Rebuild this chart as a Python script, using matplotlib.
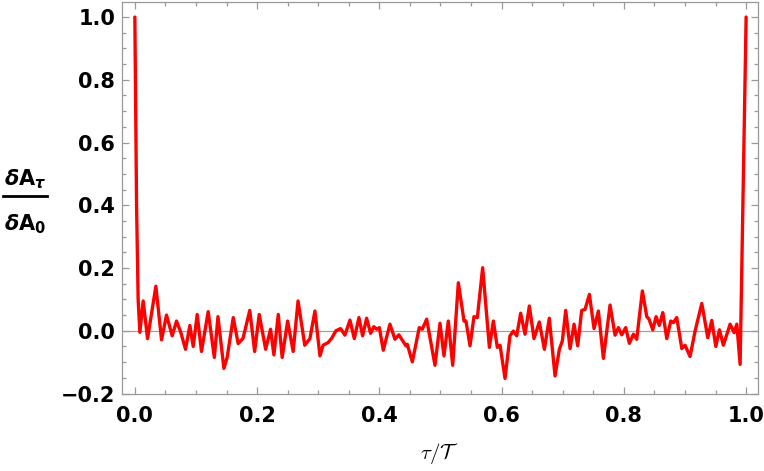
import matplotlib
matplotlib.use("Agg")
import matplotlib.pyplot as plt
from matplotlib import rcParams
from matplotlib.lines import Line2D
from matplotlib.ticker import MultipleLocator, FuncFormatter

rcParams['font.family'] = 'DejaVu Sans'
rcParams['font.weight'] = 'bold'
rcParams['mathtext.fontset'] = 'custom'
rcParams['mathtext.rm'] = 'DejaVu Sans:bold'
rcParams['mathtext.bf'] = 'DejaVu Sans:bold'
rcParams['mathtext.it'] = 'DejaVu Sans:italic:bold'

# tau / T  and  dA_tau / dA_0 (extrema and turning points)
tau = [0.0, 0.0028, 0.0054, 0.0082, 0.0136, 0.0208, 0.0344, 0.0437, 0.0518, 0.0611,
       0.0682, 0.0753, 0.0829, 0.0900, 0.0955, 0.1020, 0.1090, 0.1200, 0.1300, 0.1360,
       0.1457, 0.1510, 0.1610, 0.1690, 0.1770, 0.1880, 0.1960, 0.2035, 0.2140, 0.2220,
       0.2275, 0.2346, 0.2410, 0.2500, 0.2590, 0.2670, 0.2780, 0.2864, 0.2946, 0.3028,
       0.3080, 0.3160, 0.3220, 0.3290, 0.3366, 0.3437, 0.3519, 0.3590, 0.3666, 0.3726,
       0.3792, 0.3857, 0.3910, 0.3955, 0.4000, 0.4064, 0.4173, 0.4255, 0.4320, 0.4435,
       0.4457, 0.4539, 0.4653, 0.4703, 0.4774, 0.4910, 0.4992, 0.5057, 0.5128, 0.5200,
       0.5292, 0.5385, 0.5417, 0.5483, 0.5548, 0.5603, 0.5690, 0.5800, 0.5865, 0.5930,
       0.5974, 0.6056, 0.6137, 0.6192, 0.6247, 0.6312, 0.6383, 0.6454, 0.6530, 0.6617,
       0.6700, 0.6780, 0.6874, 0.6945, 0.6994, 0.7049, 0.7120, 0.7185, 0.7245, 0.7310,
       0.7365, 0.7436, 0.7512, 0.7583, 0.7665, 0.7774, 0.7856, 0.7910, 0.7965, 0.8030,
       0.8090, 0.8156, 0.8210, 0.8303, 0.8375, 0.8412, 0.8473, 0.8527, 0.8580, 0.8637,
       0.8702, 0.8767, 0.8810, 0.8865, 0.8948, 0.9000, 0.9083, 0.9165, 0.9275, 0.9373,
       0.9438, 0.9504, 0.9563, 0.9628, 0.9738, 0.9804, 0.9848, 0.9902, 1.0]
ratio = [1.0, 0.40, 0.10, -0.005, 0.095, -0.025, 0.142, -0.029, 0.050, -0.016,
         0.031, -0.006, -0.059, 0.017, -0.050, 0.052, -0.066, 0.061, -0.085, 0.045,
         -0.120, -0.085, 0.042, -0.041, -0.024, 0.065, -0.066, 0.052, -0.059, 0.005,
         -0.077, 0.052, -0.085, 0.031, -0.066, 0.095, -0.046, -0.025, 0.063, -0.080,
         -0.046, -0.038, -0.024, 0.000, 0.007, -0.014, 0.034, -0.025, 0.042, -0.016,
         0.040, -0.008, 0.013, 0.005, 0.010, -0.062, 0.021, -0.027, -0.013, -0.048,
         -0.043, -0.099, 0.010, 0.005, 0.037, -0.110, 0.024, -0.080, 0.031, -0.110,
         0.153, 0.031, 0.031, -0.048, 0.045, 0.042, 0.201, -0.053, 0.031, -0.053,
         -0.046, -0.152, -0.016, -0.001, -0.016, 0.056, -0.011, 0.079, -0.025, 0.028,
         -0.059, 0.040, -0.144, -0.059, -0.032, 0.065, -0.057, 0.021, -0.048, 0.065,
         0.068, 0.116, 0.007, 0.063, -0.088, 0.082, -0.014, 0.010, -0.013, 0.010,
         -0.040, -0.011, -0.027, 0.127, 0.045, 0.037, 0.003, 0.045, 0.017, 0.058,
         -0.025, 0.031, 0.026, 0.042, -0.057, -0.046, -0.082, -0.001, 0.087, -0.022,
         0.033, -0.050, 0.003, -0.046, 0.021, -0.006, 0.021, -0.107, 1.0]

frame_col = '#999999'
W, H = 764, 471

fig = plt.figure(figsize=(W / 100, H / 100), dpi=100)
ax = fig.add_axes([0.1597, 0.1645, 0.9918 - 0.1597, 0.9958 - 0.1645])

ax.axhline(0, color='#a0a0a0', linewidth=0.9, zorder=1)
ax.plot(tau, ratio, '-', color='#ff0000', linewidth=2.4,
        solid_joinstyle='round', solid_capstyle='round', zorder=3)

ax.set_xlim(-0.021, 1.019)
ax.set_ylim(-0.2, 1.048)

ax.xaxis.set_major_locator(MultipleLocator(0.2))
ax.xaxis.set_minor_locator(MultipleLocator(0.05))
ax.yaxis.set_major_locator(MultipleLocator(0.2))
ax.yaxis.set_minor_locator(MultipleLocator(0.05))
fmt = FuncFormatter(lambda v, _: ('%.1f' % (v + 0.0)).replace('-', '\u2212'))
ax.xaxis.set_major_formatter(fmt)
ax.yaxis.set_major_formatter(fmt)

for s in ax.spines.values():
    s.set_color(frame_col)
    s.set_linewidth(0.9)
ax.tick_params(which='both', direction='in', top=True, right=True,
               color=frame_col, width=0.9)
ax.tick_params(which='major', length=5)
ax.tick_params(which='minor', length=3)
ax.tick_params(axis='x', which='major', pad=9, labelsize=15)
ax.tick_params(axis='y', which='major', pad=5, labelsize=15)

# y label as a stacked fraction
fig.text(25 / W, 1 - 185 / H, r'$\delta\mathrm{A}_{\tau}$', fontsize=15,
         ha='center', va='baseline')
fig.add_artist(Line2D([3 / W, 47 / W], [1 - 196 / H, 1 - 196 / H],
                      transform=fig.transFigure, color='black', linewidth=2.0))
fig.text(25 / W, 1 - 230 / H, r'$\delta\mathrm{A}_{0}$', fontsize=15,
         ha='center', va='baseline')

ax.set_xlabel(r'$\tau/\mathcal{T}$', fontsize=15, math_fontfamily='cm', labelpad=11)

fig.savefig('out.png', dpi=100)
